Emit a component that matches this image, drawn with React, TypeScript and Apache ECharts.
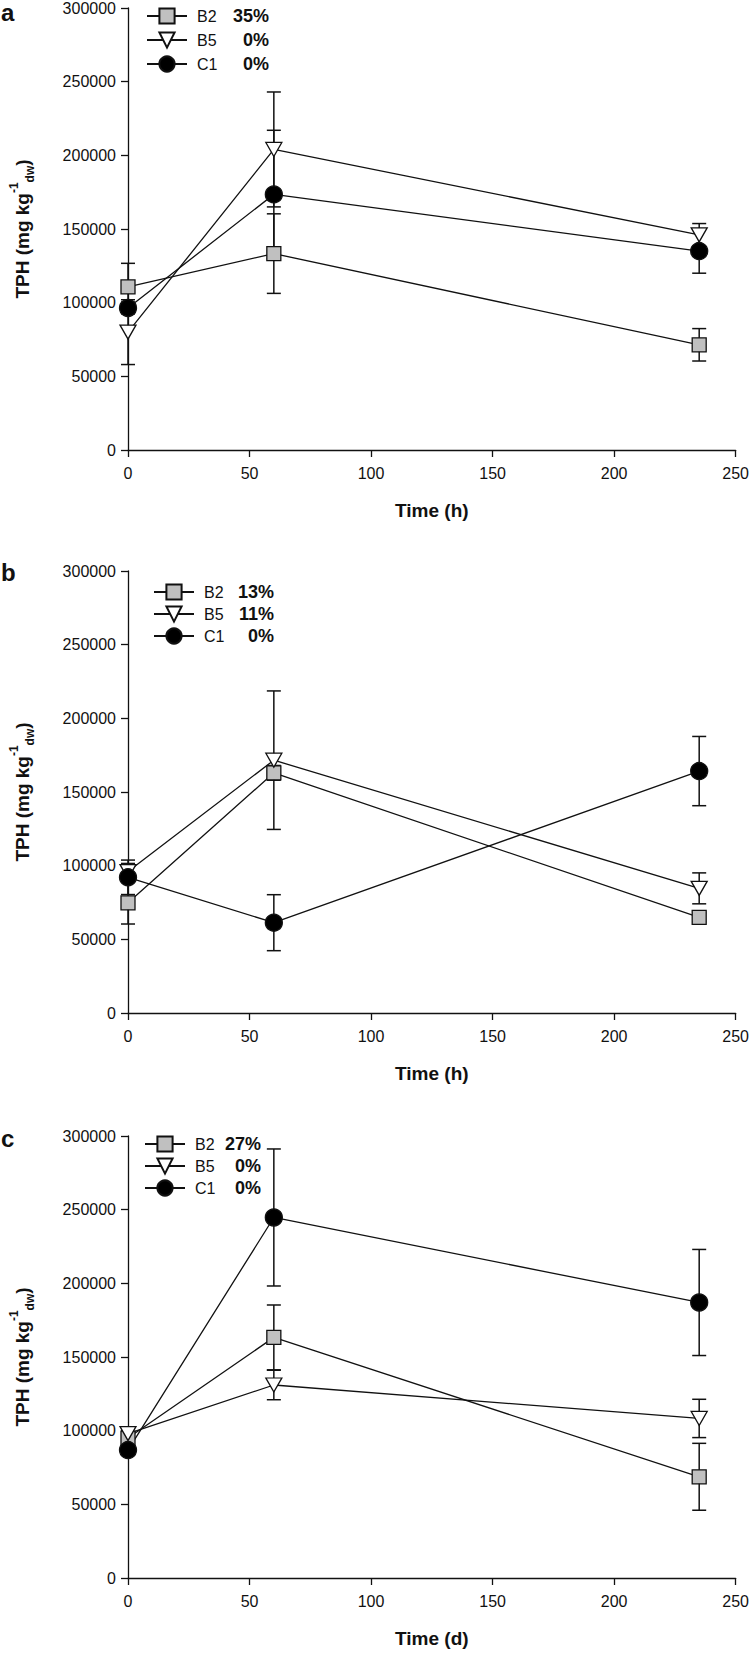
import React, { useEffect, useRef } from "react";
import * as echarts from "echarts";

// ---- data ----
const TIMES = [0, 60, 235];
const SERIES_NAMES = ["B2", "B5", "C1"];
const PANEL_LABELS = ["a", "b", "c"];
const X_TITLES = ["Time (h)", "Time (h)", "Time (d)"];

const A_B2 = [110700, 133300, 71400];
const A_B2_ERR = [16000, 27000, 11000];
const A_B5 = [80000, 204000, 146000];
const A_B5_ERR = [22000, 39000, 7700];
const A_C1 = [96400, 173500, 135000];
const A_C1_ERR = [4000, 43500, 15000];
const A_PCT = ["35%", "0%", "0%"];

const B_B2 = [74800, 163000, 64900];
const B_B2_ERR = [14400, 5000, 3000];
const B_B5 = [96000, 171600, 84600];
const B_B5_ERR = [5500, 47000, 10500];
const B_C1 = [92100, 61300, 164200];
const B_C1_ERR = [11700, 19000, 23500];
const B_PCT = ["13%", "11%", "0%"];

const C_B2 = [95000, 163300, 68700];
const C_B2_ERR = [3000, 22000, 22700];
const C_B5 = [98000, 131000, 108300];
const C_B5_ERR = [3000, 10000, 13000];
const C_C1 = [86800, 244700, 187000];
const C_C1_ERR = [3000, 46500, 36000];
const C_PCT = ["27%", "0%", "0%"];

const X_MIN = 0;
const X_MAX = 250;
const X_STEP = 50;
const Y_MIN = 0;
const Y_MAX = 300000;
const Y_STEP = 50000;

const PANEL_VALUES = [
  [A_B2, A_B5, A_C1],
  [B_B2, B_B5, B_C1],
  [C_B2, C_B5, C_C1],
];
const PANEL_ERRS = [
  [A_B2_ERR, A_B5_ERR, A_C1_ERR],
  [B_B2_ERR, B_B5_ERR, B_C1_ERR],
  [C_B2_ERR, C_B5_ERR, C_C1_ERR],
];
const PANEL_PCTS = [A_PCT, B_PCT, C_PCT];

// ---- layout / style ----
const FONT = "'Liberation Sans', Arial, Helvetica, sans-serif";
const INK = "#111";
const GRID_TOPS = [8, 571, 1136];
const GRID_H = 442;
const GRID_LEFT = 122;
const GRID_W = 615;
const LEGEND_POS = [
  { left: 146, top: 7, gap: 6, nw: 30, pw: 42 },
  { left: 153, top: 583, gap: 4, nw: 30, pw: 40 },
  { left: 144, top: 1135, gap: 4, nw: 29, pw: 37 },
];
const LABEL_TOPS = [0, 560, 1126];

const SYMBOLS = [
  { symbol: "rect", size: 14, fill: "#c0c0c0" },
  { symbol: "path://M0,0 L16,0 L8,14 Z", size: [16, 14], fill: "#ffffff" },
  { symbol: "circle", size: 17, fill: "#000000" },
];

export default function App() {
  const ref = useRef<HTMLDivElement>(null);

  useEffect(() => {
    document.body.style.margin = "0";
    if (!ref.current) return;
    const chart = echarts.init(ref.current, undefined, { renderer: "svg" });

    const grid: any[] = [];
    const xAxis: any[] = [];
    const yAxis: any[] = [];
    const series: any[] = [];
    const legend: any[] = [];
    const title: any[] = [];

    for (let p = 0; p < 3; p++) {
      grid.push({
        left: GRID_LEFT,
        top: GRID_TOPS[p],
        width: GRID_W,
        height: GRID_H,
        containLabel: false,
      });
      xAxis.push({
        type: "value",
        gridIndex: p,
        min: X_MIN,
        max: X_MAX,
        interval: X_STEP,
        splitLine: { show: false },
        axisLine: { show: true, onZero: false, lineStyle: { color: INK, width: 1.3 } },
        axisTick: { show: true, length: 7, lineStyle: { color: INK, width: 1.3 } },
        axisLabel: { color: INK, fontSize: 16, fontFamily: FONT, margin: 15 },
        name: X_TITLES[p],
        nameLocation: "middle",
        nameGap: 51,
        nameTextStyle: { color: INK, fontSize: 19, fontWeight: "bold", fontFamily: FONT },
      });
      yAxis.push({
        type: "value",
        gridIndex: p,
        min: Y_MIN,
        max: Y_MAX,
        interval: Y_STEP,
        splitLine: { show: false },
        axisLine: { show: true, onZero: false, lineStyle: { color: INK, width: 1.3 } },
        axisTick: { show: true, length: 7, lineStyle: { color: INK, width: 1.3 } },
        axisLabel: {
          color: INK,
          fontSize: 16,
          fontFamily: FONT,
          margin: 12,
          formatter: (v: number) => String(v),
        },
        name: "{t|TPH (mg kg}{sup|-1}{sub|dw}{t|)}",
        nameLocation: "middle",
        nameRotate: 90,
        nameGap: 92,
        nameTextStyle: {
          color: INK,
          fontFamily: FONT,
          rich: {
            t: { fontSize: 19, fontWeight: "bold", fontFamily: FONT, color: INK, lineHeight: 28, verticalAlign: "middle" },
            sup: { fontSize: 12, fontWeight: "bold", fontFamily: FONT, color: INK, lineHeight: 12, verticalAlign: "top" },
            sub: { fontSize: 12, fontWeight: "bold", fontFamily: FONT, color: INK, lineHeight: 12, verticalAlign: "bottom" },
          },
        },
      });

      // error bars first (drawn beneath markers)
      for (let s = 0; s < 3; s++) {
        const vals = PANEL_VALUES[p][s];
        const errs = PANEL_ERRS[p][s];
        series.push({
          type: "custom",
          name: `err-${p}-${s}`,
          xAxisIndex: p,
          yAxisIndex: p,
          z: 1,
          clip: false,
          silent: true,
          encode: { x: 0, y: 1 },
          data: TIMES.map((t, i) => [t, vals[i], errs[i]]),
          renderItem: (params: any, api: any) => {
            const x = api.value(0);
            const y = api.value(1);
            const e = api.value(2);
            const top = api.coord([x, y + e]);
            const bot = api.coord([x, y - e]);
            const w = 7;
            const style = { stroke: INK, lineWidth: 1.5, fill: "none" };
            return {
              type: "group",
              children: [
                { type: "line", shape: { x1: top[0], y1: top[1], x2: bot[0], y2: bot[1] }, style },
                { type: "line", shape: { x1: top[0] - w, y1: top[1], x2: top[0] + w, y2: top[1] }, style },
                { type: "line", shape: { x1: bot[0] - w, y1: bot[1], x2: bot[0] + w, y2: bot[1] }, style },
              ],
            };
          },
        });
      }
      for (let s = 0; s < 3; s++) {
        const vals = PANEL_VALUES[p][s];
        const sym = SYMBOLS[s];
        series.push({
          type: "line",
          name: SERIES_NAMES[s],
          xAxisIndex: p,
          yAxisIndex: p,
          z: 3,
          data: TIMES.map((t, i) => [t, vals[i]]),
          symbol: sym.symbol,
          symbolSize: sym.size,
          showAllSymbol: true,
          clip: false,
          lineStyle: { color: INK, width: 1.3 },
          itemStyle: { color: sym.fill, borderColor: INK, borderWidth: 1.3, opacity: 1 },
          emphasis: { disabled: true },
        });
      }

      const pcts = PANEL_PCTS[p];
      const lp = LEGEND_POS[p];
      legend.push({
        data: SERIES_NAMES,
        orient: "vertical",
        left: lp.left,
        top: lp.top,
        itemWidth: 40,
        itemHeight: 19,
        itemGap: lp.gap,
        padding: 0,
        selectedMode: false,
        formatter: (name: string) => {
          const i = SERIES_NAMES.indexOf(name);
          return `{n|${name}}{p|${pcts[i]}}`;
        },
        textStyle: {
          color: INK,
          fontFamily: FONT,
          rich: {
            n: { fontSize: 16, fontFamily: FONT, color: INK, width: lp.nw, padding: [0, 0, 0, 5], lineHeight: 20 },
            p: { fontSize: 18, fontWeight: "bold", fontFamily: FONT, color: INK, width: lp.pw, align: "right", lineHeight: 20 },
          },
        },
      });

      title.push({
        text: PANEL_LABELS[p],
        left: 1,
        top: LABEL_TOPS[p],
        padding: 0,
        textStyle: { color: INK, fontSize: 24, fontWeight: "bold", fontFamily: FONT },
      });
    }

    chart.setOption({
      animation: false,
      backgroundColor: "#ffffff",
      textStyle: { fontFamily: FONT },
      title,
      grid,
      xAxis,
      yAxis,
      legend,
      series,
    });

    return () => chart.dispose();
  }, []);

  return <div ref={ref} style={{ width: 752, height: 1653 }} />;
}
